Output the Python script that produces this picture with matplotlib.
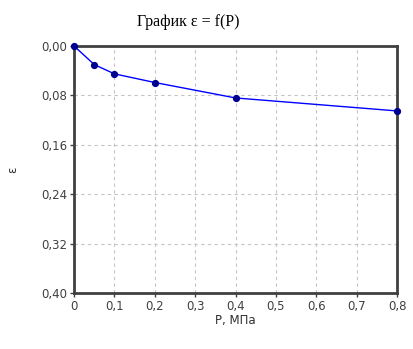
import matplotlib
matplotlib.use("Agg")
import matplotlib.pyplot as plt
from matplotlib.ticker import FuncFormatter

P = [0.0, 0.05, 0.1, 0.2, 0.4, 0.8]
eps = [0.0, 0.030, 0.045, 0.059, 0.084, 0.105]
xticks = [0, 0.1, 0.2, 0.3, 0.4, 0.5, 0.6, 0.7, 0.8]
yticks = [0.0, 0.08, 0.16, 0.24, 0.32, 0.40]

fig = plt.figure(figsize=(4.14, 3.49), dpi=100)
ax = fig.add_axes([0.179, 0.160, 0.780, 0.708])
ax.plot(P, eps, color="#0000ff", lw=1.0, marker="o", ms=4.2,
        mfc="#000090", mec="#000090", zorder=3, clip_on=False)
ax.set_xlim(0, 0.8)
ax.set_ylim(0.40, 0.0)
ax.set_xticks(xticks)
ax.set_yticks(yticks)
ax.xaxis.set_major_formatter(FuncFormatter(lambda v, p: "0" if v == 0 else f"{v:.1f}".replace(".", ",")))
ax.yaxis.set_major_formatter(FuncFormatter(lambda v, p: f"{v:.2f}".replace(".", ",")))
ax.grid(True, color="#c4c4c4", ls=(0, (3, 3)), lw=0.8)
for s in ax.spines.values():
    s.set_linewidth(2.0)
    s.set_color("#404040")
ax.tick_params(axis="both", labelsize=8.5, colors="#404040", length=3, width=1, direction="out", pad=2)
ax.set_xlabel("P, МПа", fontsize=8.5, color="#303030", labelpad=1)
ax.set_ylabel("ε", fontsize=8.5, color="#303030", labelpad=16, rotation=90)
fig.text(188 / 414, 1 - 22 / 349, "График ε = f(P)", fontsize=11.5, family="Liberation Serif",
         ha="center", va="center")
fig.savefig("out.png", dpi=100)
